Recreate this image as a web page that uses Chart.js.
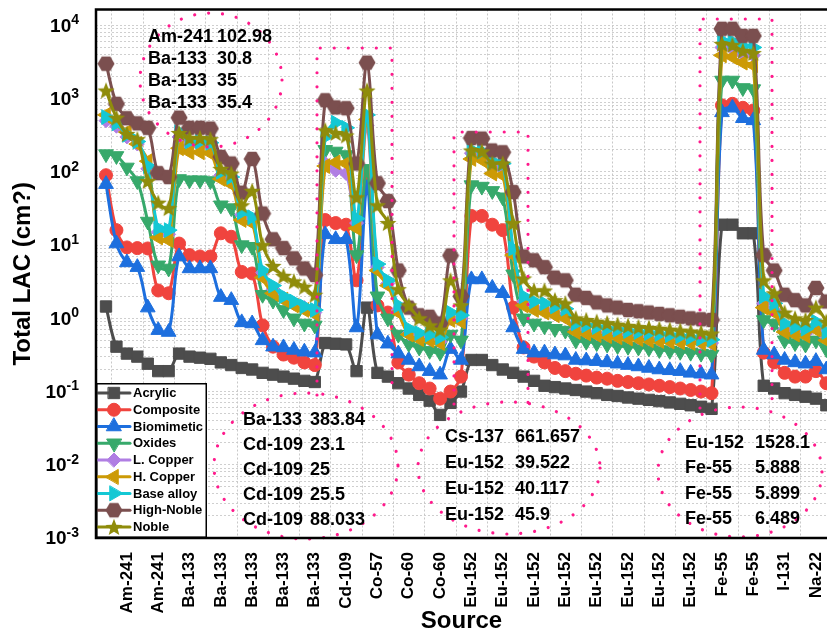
<!DOCTYPE html>
<html>
<head>
<meta charset="utf-8">
<script src="https://cdn.jsdelivr.net/npm/chart.js@4.4.1/dist/chart.umd.min.js"></script>
<style>
  html, body { margin: 0; padding: 0; background: #fff; overflow: hidden; }
  #wrap { width: 827px; height: 635px; position: relative; }
</style>
</head>
<body>
<div id="wrap"><canvas id="lacChart"></canvas></div>
<script>
const FONT = 'Liberation Sans, Arial, sans-serif';

// tick labels under the x axis (one per group of three points)
const tickLabels = ['Am-241', 'Am-241', 'Ba-133', 'Ba-133', 'Ba-133', 'Ba-133', 'Ba-133', 'Cd-109', 'Co-57',
    'Co-60', 'Co-60', 'Eu-152', 'Eu-152', 'Eu-152', 'Eu-152', 'Eu-152', 'Eu-152', 'Eu-152', 'Eu-152',
    'Fe-55', 'Fe-55', 'I-131', 'Na-22'];
const yDecades = [-3, -2, -1, 0, 1, 2, 3, 4];

// Total LAC per source line, one array per material
const acrylic = [1.45, 0.41, 0.33, 0.30, 0.24, 0.19, 0.19,
    0.33, 0.30, 0.29, 0.28,
    0.25, 0.23, 0.21, 0.20, 0.18, 0.17, 0.16, 0.15, 0.14, 0.135,
    0.46, 0.45, 0.44, 0.19, 1.4,
    0.18, 0.16, 0.13, 0.11, 0.09, 0.075, 0.048, 0.07, 0.1,
    0.27, 0.27, 0.23, 0.2, 0.18, 0.16, 0.14,
    0.12, 0.115, 0.11, 0.105, 0.1, 0.095, 0.09, 0.087, 0.083, 0.08, 0.077, 0.074, 0.071, 0.068, 0.065, 0.062, 0.058,
    19, 19, 14.5, 14.5,
    0.12, 0.11, 0.095, 0.09, 0.085, 0.08, 0.065];
const composite = [90, 16, 9.3, 9.1, 9.0, 2.4, 2.2,
    10.5, 7.3, 7.0, 7.0,
    14.5, 13, 4.3, 4.1, 0.8, 0.41, 0.32, 0.29, 0.25, 0.23,
    22, 20, 19, 3.3, 84,
    1.5, 1.2, 0.25, 0.17, 0.13, 0.11, 0.08, 0.1, 0.16,
    25, 25, 19, 16, 1.4, 0.4, 0.3,
    0.25, 0.21, 0.19, 0.175, 0.165, 0.155, 0.15, 0.14, 0.135, 0.13, 0.125, 0.12, 0.115, 0.11, 0.105, 0.1, 0.095,
    810, 850, 750, 690,
    0.34, 0.25, 0.18, 0.16, 0.16, 0.19, 0.13];
const biomimetic = [68, 10.5, 5.8, 5.0, 1.4, 0.69, 0.65,
    7.0, 4.8, 4.8, 4.8,
    1.95, 1.77, 0.88, 0.85, 0.5, 0.41, 0.4, 0.37, 0.35, 0.34,
    14, 12, 12, 0.75, 60,
    0.6, 0.45, 0.33, 0.27, 0.22, 0.19, 0.17, 0.38, 0.27,
    3.4, 3.4, 2.6, 2.2, 0.75, 0.38, 0.34,
    0.34, 0.32, 0.31, 0.27, 0.265, 0.26, 0.25, 0.24, 0.23, 0.22, 0.21, 0.2, 0.195, 0.19, 0.18, 0.175, 0.17,
    650, 750, 540, 505,
    0.37, 0.32, 0.27, 0.25, 0.24, 0.26, 0.2];
const oxides = [175, 165, 115, 75, 21, 5.3, 4.8,
    80, 77, 77, 75,
    35, 32, 10, 9.5, 2.1, 1.75, 1.3, 1.0, 0.85, 0.8,
    200, 190, 170, 7.3, 110,
    2.0, 1.0, 0.6, 0.45, 0.4, 0.36, 0.34, 0.6, 0.5,
    66, 63, 55, 45, 4, 1.0, 0.85,
    0.78, 0.72, 0.68, 0.5, 0.48, 0.46, 0.44, 0.42, 0.41, 0.4, 0.39, 0.37, 0.36, 0.35, 0.34, 0.33, 0.32,
    1770, 1770, 1400, 1350,
    0.95, 0.85, 0.5, 0.46, 0.44, 0.5, 0.38];
const lCopper = [500, 420, 300, 240, 110, 15, 14,
    300, 230, 230, 220,
    90, 78, 26, 22, 4.2, 2.5, 1.9, 1.6, 1.4, 1.2,
    130, 105, 95, 20, 430,
    5, 3, 1.3, 0.62, 0.55, 0.52, 0.48, 1.0, 1.0,
    180, 175, 120, 110, 8, 1.7, 1.4,
    1.3, 1.15, 1.05, 0.7, 0.65, 0.62, 0.6, 0.58, 0.56, 0.54, 0.52, 0.51, 0.5, 0.49, 0.48, 0.47, 0.46,
    5000, 4800, 4000, 3900,
    1.6, 1.3, 0.7, 0.65, 0.62, 0.75, 0.55];
const hCopper = [600, 480, 350, 240, 140, 12.7, 11.7,
    210, 185, 185, 180,
    80, 68, 22, 20, 3.6, 2.2, 1.8, 1.5, 1.3, 1.15,
    120, 135, 130, 17, 520,
    4.5, 2.8, 1.2, 0.6, 0.52, 0.5, 0.46, 0.95, 0.9,
    150, 145, 95, 90, 7.3, 1.5, 1.3,
    1.2, 1.1, 1.0, 0.65, 0.62, 0.59, 0.57, 0.55, 0.53, 0.52, 0.5, 0.49, 0.48, 0.47, 0.46, 0.46, 0.45,
    3900, 3700, 3100, 2850,
    1.4, 1.2, 0.65, 0.6, 0.58, 0.7, 0.5];
const baseAlloy = [560, 460, 320, 260, 120, 17, 16,
    350, 260, 260, 250,
    100, 85, 28, 24, 4.5, 2.8, 2.0, 1.7, 1.45, 1.3,
    300, 470, 400, 23, 600,
    5.5, 3.3, 1.5, 0.72, 0.63, 0.6, 0.55, 1.2, 1.1,
    200, 190, 140, 130, 9, 2.0, 1.7,
    1.6, 1.45, 1.35, 0.85, 0.8, 0.76, 0.72, 0.7, 0.67, 0.65, 0.63, 0.61, 0.59, 0.57, 0.55, 0.53, 0.51,
    6200, 6000, 5200, 5000,
    2.0, 1.6, 0.85, 0.76, 0.72, 0.9, 0.65];
const highNoble = [3000, 850, 540, 460, 400, 96, 85,
    550, 400, 400, 390,
    160, 130, 52, 150, 27, 12, 9.1, 6.6, 4.8, 3.9,
    950, 760, 740, 130, 3100,
    70, 40, 4.5, 1.4, 1.1, 1.05, 0.85, 7.2, 2.0,
    290, 285, 196, 185, 53, 7, 6.2,
    5.0, 3.6, 3.3, 2.1, 1.9, 1.65, 1.5, 1.4, 1.3, 1.25, 1.2, 1.15, 1.1, 1.05, 1.0, 0.97, 0.95,
    9000, 9000, 7200, 7200,
    7.3, 4.5, 2.1, 1.77, 1.5, 2.6, 1.7];
const noble = [1290, 550, 330, 280, 75, 38, 32,
    340, 290, 290, 280,
    110, 95, 35, 55, 10, 5.2, 3.8, 3.2, 2.7, 2.1,
    370, 340, 315, 45, 1290,
    35, 20, 2.5, 1.5, 1.0, 0.8, 0.7, 3.3, 1.5,
    196, 190, 130, 130, 20, 3.5, 2.4,
    2.4, 1.77, 1.6, 1.0, 0.95, 0.9, 0.86, 0.82, 0.79, 0.76, 0.74, 0.72, 0.7, 0.68, 0.66, 0.64, 0.62,
    5600, 5400, 4500, 4200,
    3.3, 2.2, 1.2, 1.0, 0.95, 1.4, 0.9];

// text in the dotted call-outs
const noteTopLeft = [['Am-241', '102.98'], ['Ba-133', '30.8'], ['Ba-133', '35'], ['Ba-133', '35.4']];
const noteCd = [['Ba-133', '383.84'], ['Cd-109', '23.1'], ['Cd-109', '25'], ['Cd-109', '25.5'], ['Cd-109', '88.033']];
const noteEu = [['Cs-137', '661.657'], ['Eu-152', '39.522'], ['Eu-152', '40.117'], ['Eu-152', '45.9']];
const noteFe = [['Eu-152', '1528.1'], ['Fe-55', '5.888'], ['Fe-55', '5.899'], ['Fe-55', '6.489']];

// custom marker shapes
function shape(color, path) {
    const c = document.createElement('canvas');
    c.width = 18; c.height = 18;
    const g = c.getContext('2d');
    g.fillStyle = color;
    g.beginPath();
    path(g);
    g.closePath();
    g.fill();
    return c;
}
const hexagon = shape('#7b4f4f', g => {
    for (let k = 0; k < 6; k++) {
        const a = Math.PI / 3 * k;
        g.lineTo(9 + 8.5 * Math.cos(a), 9 + 8.5 * Math.sin(a));
    }
});
const star = shape('#8f8c0b', g => {
    for (let k = 0; k < 10; k++) {
        const r = k % 2 ? 3.9 : 9;
        const a = -Math.PI / 2 + k * Math.PI / 5;
        g.lineTo(9 + r * Math.cos(a), 9.8 + r * Math.sin(a));
    }
});

const series = [
    {label: 'Acrylic', values: acrylic, color: '#4d4d4d', style: 'rect', radius: 8, rotation: 0},
    {label: 'Composite', values: composite, color: '#f0443e', style: 'circle', radius: 6.5, rotation: 0},
    {label: 'Biomimetic', values: biomimetic, color: '#1d6fde', style: 'triangle', radius: 8.5, rotation: 0},
    {label: 'Oxides', values: oxides, color: '#37a96b', style: 'triangle', radius: 8.5, rotation: 180},
    {label: 'L. Copper', values: lCopper, color: '#b07ee3', style: 'rectRot', radius: 7, rotation: 0},
    {label: 'H. Copper', values: hCopper, color: '#cc9a06', style: 'triangle', radius: 8.5, rotation: 270},
    {label: 'Base alloy', values: baseAlloy, color: '#14c8d4', style: 'triangle', radius: 8.5, rotation: 90},
    {label: 'High-Noble', values: highNoble, color: '#7b4f4f', style: hexagon, radius: 8, rotation: 0},
    {label: 'Noble', values: noble, color: '#8f8c0b', style: star, radius: 8, rotation: 0}
];

const datasets = series.map((s, k) => ({
    label: s.label,
    data: s.values.map((v, i) => ({x: i, y: v})),
    borderColor: s.color,
    backgroundColor: s.color,
    borderWidth: 3,
    tension: 0.35,
    pointStyle: s.style,
    pointRadius: s.radius,
    pointRotation: s.rotation,
    pointBorderWidth: 1,
    pointBackgroundColor: s.color,
    pointBorderColor: s.color,
    order: series.length - k
}));

function drawNote(ctx, rows, nameX, valueX, y0, dy) {
    ctx.fillStyle = '#000';
    ctx.font = 'bold 18px ' + FONT;
    ctx.textBaseline = 'middle';
    ctx.textAlign = 'left';
    rows.forEach((r, j) => {
        ctx.fillText(r[0], nameX, y0 + j * dy);
        ctx.fillText(r[1], valueX, y0 + j * dy);
    });
}

const overlay = {
    id: 'overlay',
    afterLayout(chart) {
        // plot box runs right up to the window edge, as in the original
        const a = chart.chartArea, x = chart.scales.x;
        a.right = chart.width;
        a.width = a.right - a.left;
        x.right = chart.width;
        x.width = x.right - x.left;
        x.configure();
    },
    beforeDatasetsDraw(chart) {
        const {ctx, chartArea: a, scales: {x}} = chart;
        ctx.save();
        ctx.strokeStyle = '#c8c8c8';
        ctx.lineWidth = 1;
        ctx.setLineDash([2, 2]);
        for (let v = 0.5; v < x.max; v += 3) {
            const px = Math.round(x.getPixelForValue(v)) + 0.5;
            ctx.beginPath();
            ctx.moveTo(px, a.top);
            ctx.lineTo(px, a.bottom);
            ctx.stroke();
        }
        ctx.restore();
    },
    afterDraw(chart) {
        const {ctx, chartArea: a, scales: {y}} = chart;
        ctx.save();

        // dotted pink call-outs
        ctx.strokeStyle = '#ff1a8c';
        ctx.lineWidth = 3.2;
        ctx.lineCap = 'round';
        ctx.setLineDash([0.01, 14]);
        const ellipses = [[211, 80, 71, 67], [306, 466, 92, 73], [509, 468, 91, 66], [740, 472, 82, 65]];
        ellipses.forEach(e => {
            ctx.beginPath();
            ctx.ellipse(e[0], e[1], e[2], e[3], 0, 0, Math.PI * 2);
            ctx.stroke();
        });
        const boxes = [[317, 392, 48, 395], [454, 528, 132, 404], [700, 772, 19, 408]];
        boxes.forEach(b => {
            ctx.beginPath();
            ctx.moveTo(b[0], b[3]);
            ctx.lineTo(b[0], b[2]);
            ctx.lineTo(b[1], b[2]);
            ctx.lineTo(b[1], b[3]);
            ctx.stroke();
        });
        ctx.setLineDash([]);

        drawNote(ctx, noteTopLeft, 148, 217, 37, 22);
        drawNote(ctx, noteCd, 243, 310, 420, 25);
        drawNote(ctx, noteEu, 445, 515, 437, 26);
        drawNote(ctx, noteFe, 685, 755, 443, 25.5);

        // legend box
        const lx = 96, ly = 383, lw = 111, lh = 155;
        ctx.fillStyle = '#fff';
        ctx.fillRect(lx, ly, lw, lh);
        ctx.strokeStyle = '#000';
        ctx.lineWidth = 1.5;
        ctx.strokeRect(lx + 0.75, ly + 0.75, lw - 1.5, lh - 1.5);
        series.forEach((s, j) => {
            const yy = 393 + j * 16.75;
            ctx.strokeStyle = s.color;
            ctx.fillStyle = s.color;
            ctx.lineWidth = 3;
            ctx.beginPath();
            ctx.moveTo(98, yy);
            ctx.lineTo(130, yy);
            ctx.stroke();
            ctx.lineWidth = 1;
            Chart.helpers.drawPoint(ctx, {pointStyle: s.style, radius: s.radius, rotation: s.rotation, borderWidth: 1}, 114, yy);
            ctx.fillStyle = '#000';
            ctx.font = 'bold 13px ' + FONT;
            ctx.textBaseline = 'middle';
            ctx.textAlign = 'left';
            ctx.fillText(s.label, 133, yy + 0.5);
        });

        // frame
        ctx.strokeStyle = '#000';
        ctx.lineWidth = 2.5;
        ctx.beginPath();
        ctx.moveTo(chart.width, a.top);
        ctx.lineTo(a.left, a.top);
        ctx.lineTo(a.left, a.bottom);
        ctx.lineTo(chart.width, a.bottom);
        ctx.stroke();

        // y tick labels as 10 with a raised exponent
        ctx.fillStyle = '#000';
        ctx.textBaseline = 'middle';
        ctx.textAlign = 'left';
        yDecades.forEach(e => {
            const py = y.getPixelForValue(Math.pow(10, e));
            const sup = String(e);
            ctx.font = 'bold 14px ' + FONT;
            const sw = ctx.measureText(sup).width;
            ctx.font = 'bold 19px ' + FONT;
            const bw = ctx.measureText('10').width;
            const x0 = 79 - sw - bw;
            ctx.fillText('10', x0, py + 1);
            ctx.font = 'bold 14px ' + FONT;
            ctx.fillText(sup, x0 + bw, py - 5);
        });
        ctx.restore();
    }
};

const gridValues = [];
yDecades.forEach(e => {
    for (let m = 1; m < 10; m++) {
        const v = m * Math.pow(10, e);
        if (v <= 16500) gridValues.push(v);
    }
});

new Chart(document.getElementById('lacChart').getContext('2d'), {
    type: 'line',
    data: {datasets: datasets},
    plugins: [overlay],
    options: {
        responsive: true,
        maintainAspectRatio: false,
        animation: false,
        events: [],
        layout: {padding: {top: 9, left: 0, right: 0, bottom: 0}},
        plugins: {legend: {display: false}, tooltip: {enabled: false}},
        scales: {
            x: {
                type: 'linear',
                bounds: 'data',
                min: -0.958,
                max: 69.06,
                afterBuildTicks: scale => { scale.ticks = tickLabels.map((t, k) => ({value: 3 * k + 2})); },
                afterFit: scale => {
                    scale.height = 97;
                    scale.paddingLeft = 0;
                    scale.paddingRight = 0;
                },
                ticks: {
                    autoSkip: false,
                    minRotation: 90,
                    maxRotation: 90,
                    padding: 14,
                    color: '#000',
                    font: {family: FONT, size: 17, weight: 'bold'},
                    callback: (v, i) => tickLabels[i]
                },
                grid: {display: false, drawTicks: false},
                border: {display: false},
                title: {
                    display: true,
                    text: 'Source',
                    color: '#000',
                    font: {family: FONT, size: 24, weight: 'bold', lineHeight: 1.1},
                    padding: {top: 0, bottom: 0}
                }
            },
            y: {
                type: 'logarithmic',
                bounds: 'data',
                min: 0.001,
                max: 16500,
                afterBuildTicks: scale => { scale.ticks = gridValues.map(v => ({value: v})); },
                afterFit: scale => {
                    scale.width = 96;
                    scale.paddingTop = 0;
                    scale.paddingBottom = 0;
                },
                ticks: {display: false, autoSkip: false},
                grid: {color: '#cfcfcf', lineWidth: 1, drawTicks: false},
                border: {display: false, dash: [2, 2]},
                title: {
                    display: true,
                    text: 'Total LAC (cm?)',
                    color: '#000',
                    font: {family: FONT, size: 24, weight: 'bold', lineHeight: 1.2},
                    padding: {top: 9, bottom: 0}
                }
            }
        }
    }
});
</script>
</body>
</html>
